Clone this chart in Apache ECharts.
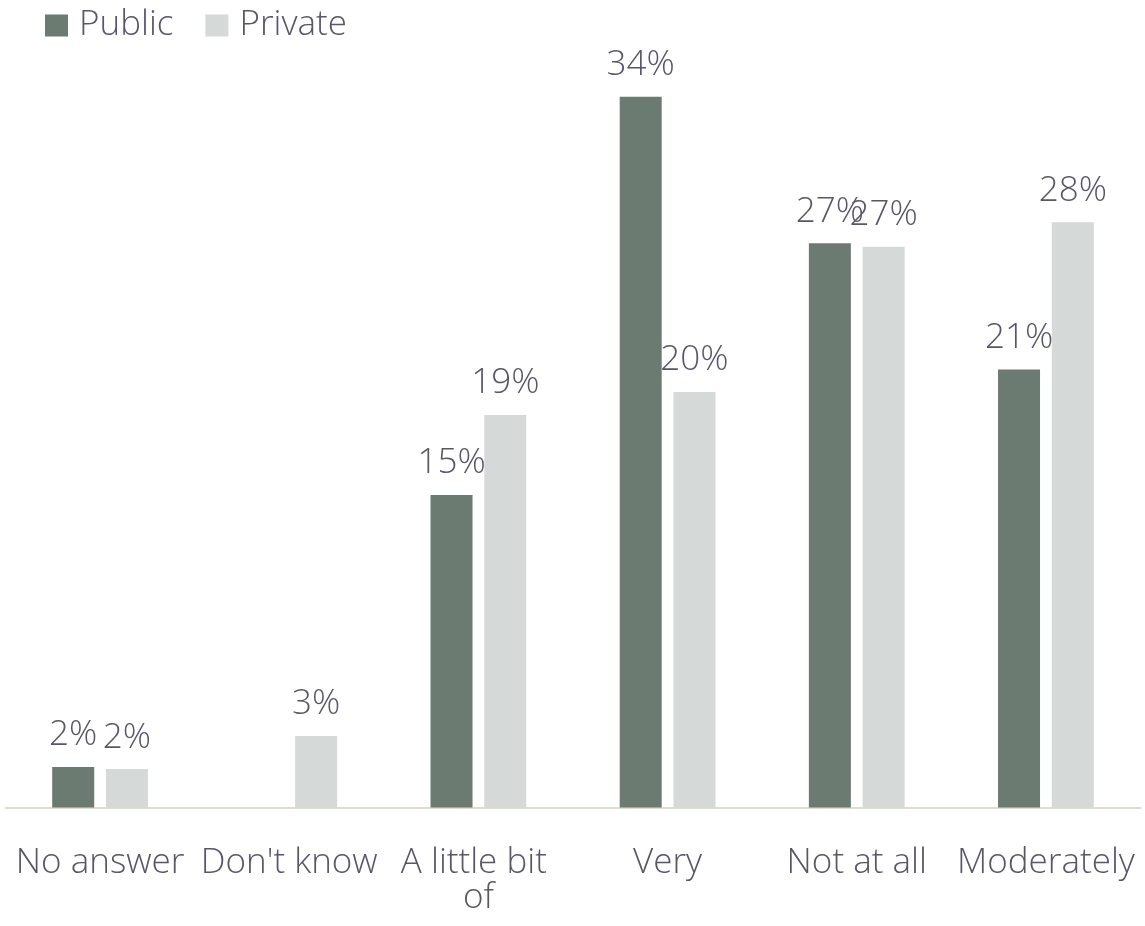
<!DOCTYPE html>
<html>
<head>
<meta charset="utf-8">
<title>Public vs Private</title>
<script src="https://cdn.jsdelivr.net/npm/echarts@6/dist/echarts.min.js"></script>
<style>
  html, body { margin: 0; padding: 0; background: #ffffff; }
  #chart { width: 1145px; height: 926px; }
</style>
</head>
<body>
<div id="chart"></div>
<script>
// Response categories along the x axis
const categories = ['No answer', "Don't know", 'A little bit of', 'Very', 'Not at all', 'Moderately'];
// Share of respondents per group (fractions); null = no bar
const publicValues = [0.0194, null, 0.1495, 0.340, 0.2699, 0.2096];
const privateValues = [0.0184, 0.0342, 0.1878, 0.1988, 0.2683, 0.280];
const seriesNames = ['Public', 'Private'];

const FONT = '"Open Sans", "Segoe UI", sans-serif';
const TEXT_COLOR = '#59556a';
const FONT_SIZE = 35;

const pct = v => Math.round(v * 100) + '%';

const labelStyle = {
  show: true,
  position: 'top',
  distance: 14,
  fontFamily: FONT,
  fontWeight: 300,
  fontSize: FONT_SIZE,
  color: TEXT_COLOR,
  formatter: p => (p.value == null ? '' : pct(p.value))
};

const chart = echarts.init(document.getElementById('chart'), null, { renderer: 'canvas' });
chart.setOption({
  animation: false,
  backgroundColor: '#ffffff',
  legend: {
    data: seriesNames,
    left: 40,
    top: 3,
    icon: 'rect',
    itemWidth: 23,
    itemHeight: 22,
    itemGap: 32,
    textStyle: {
      fontFamily: FONT,
      fontWeight: 300,
      fontSize: FONT_SIZE,
      color: TEXT_COLOR,
      padding: [0, 0, 0, 6]
    }
  },
  grid: { left: 5.5, right: 4.5, top: 55, bottom: 118.5, containLabel: false },
  xAxis: {
    type: 'category',
    data: categories,
    axisTick: { show: false },
    axisLine: { show: true, lineStyle: { color: '#dedbd0', width: 2 } },
    axisLabel: {
      interval: 0,
      margin: 38,
      fontFamily: FONT,
      fontWeight: 300,
      fontSize: FONT_SIZE,
      lineHeight: 35,
      color: TEXT_COLOR,
      width: 182,
      overflow: 'break'
    }
  },
  yAxis: {
    type: 'value',
    min: 0,
    max: 0.36,
    show: false,
    splitLine: { show: false }
  },
  series: [
    {
      name: seriesNames[0],
      type: 'bar',
      data: publicValues,
      barWidth: 42,
      barGap: '28%',
      itemStyle: { color: '#6b7b72' },
      label: labelStyle
    },
    {
      name: seriesNames[1],
      type: 'bar',
      data: privateValues,
      barWidth: 42,
      itemStyle: { color: '#d5d9d8' },
      label: labelStyle
    }
  ]
});
</script>
</body>
</html>
